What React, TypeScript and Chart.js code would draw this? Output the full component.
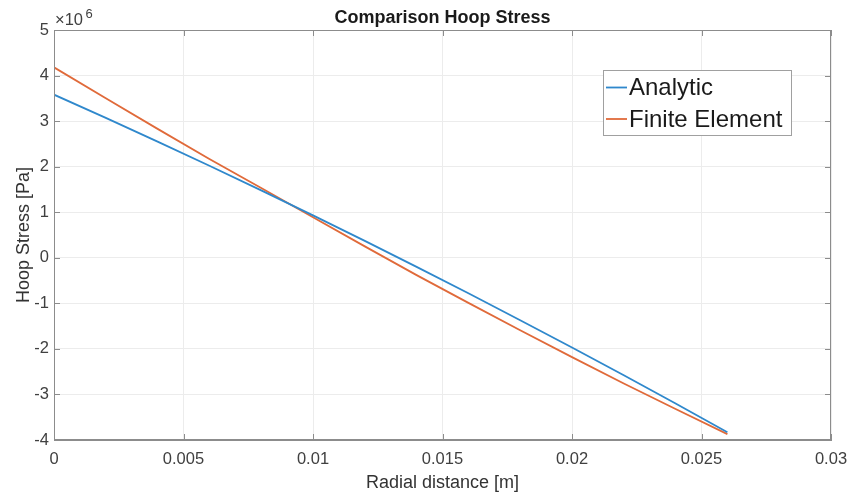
import React, { useEffect, useRef } from "react";
import { Chart, registerables } from "chart.js";

Chart.register(...registerables);

// Radial positions [m] and hoop stress [Pa] for both solutions
const radialDistance = [0, 0.002, 0.004, 0.006, 0.008, 0.01, 0.012, 0.014, 0.016, 0.018, 0.02, 0.022, 0.024, 0.026];
const analyticStress = [3.58e6, 3.07e6, 2.55e6, 2.02e6, 1.48e6, 0.93e6, 0.37e6, -0.2e6, -0.78e6, -1.37e6, -1.97e6, -2.58e6, -3.2e6, -3.83e6];
const finiteElementStress = [4.18e6, 3.5e6, 2.83e6, 2.17e6, 1.53e6, 0.89e6, 0.25e6, -0.38e6, -0.99e6, -1.59e6, -2.18e6, -2.76e6, -3.32e6, -3.87e6];

const seriesNames = ["Analytic", "Finite Element"];
const seriesColors = ["#2f88cc", "#e06a3a"];

const xTicks = [0, 0.005, 0.01, 0.015, 0.02, 0.025, 0.03];
const yTicks = [-4e6, -3e6, -2e6, -1e6, 0, 1e6, 2e6, 3e6, 4e6, 5e6];

const titleText = "Comparison Hoop Stress";
const xTitle = "Radial distance [m]";
const yTitle = "Hoop Stress [Pa]";

const FONT = "'Liberation Sans', Arial, Helvetica, sans-serif";
const BOX = "#8c8c8c";

// Frame, inward ticks, titles, exponent label and legend
const decorations = {
  id: "decorations",
  afterDraw(chart: any) {
    const { ctx, chartArea: a, scales } = chart;
    const xs = scales.x;
    const ys = scales.y;
    ctx.save();

    // box around the axes
    ctx.strokeStyle = BOX;
    ctx.lineWidth = 1;
    ctx.strokeRect(a.left + 0.5, a.top + 0.5, a.right - a.left - 1, a.bottom - a.top - 1);

    // inward tick marks on all four sides
    const tl = 6;
    ctx.beginPath();
    xTicks.forEach((v) => {
      const px = Math.round(xs.getPixelForValue(v)) + 0.5;
      ctx.moveTo(px, a.bottom);
      ctx.lineTo(px, a.bottom - tl);
      ctx.moveTo(px, a.top);
      ctx.lineTo(px, a.top + tl);
    });
    yTicks.forEach((v) => {
      const py = Math.round(ys.getPixelForValue(v)) + 0.5;
      ctx.moveTo(a.left, py);
      ctx.lineTo(a.left + tl, py);
      ctx.moveTo(a.right, py);
      ctx.lineTo(a.right - tl, py);
    });
    ctx.stroke();

    const cx = (a.left + a.right) / 2;
    const cy = (a.top + a.bottom) / 2;

    // chart title
    ctx.fillStyle = "#1a1a1a";
    ctx.textAlign = "center";
    ctx.textBaseline = "alphabetic";
    ctx.font = `bold 18px ${FONT}`;
    ctx.fillText(titleText, cx, 23);

    // axis titles
    ctx.fillStyle = "#333333";
    ctx.font = `18px ${FONT}`;
    ctx.fillText(xTitle, cx, 488);
    ctx.save();
    ctx.translate(28.5, cy);
    ctx.rotate(-Math.PI / 2);
    ctx.fillText(yTitle, 0, 0);
    ctx.restore();

    // exponent label
    ctx.fillStyle = "#404040";
    ctx.textAlign = "left";
    ctx.font = `16.5px ${FONT}`;
    ctx.fillText("\u00d710", 55, 25);
    ctx.font = `13px ${FONT}`;
    ctx.fillText("6", 85.5, 17.5);

    // legend
    const lx = 603.5;
    const ly = 70.5;
    const lw = 188;
    const lh = 65;
    ctx.fillStyle = "#ffffff";
    ctx.fillRect(lx, ly, lw, lh);
    ctx.strokeStyle = "#a0a0a0";
    ctx.strokeRect(lx, ly, lw, lh);
    ctx.font = `24px ${FONT}`;
    ctx.textBaseline = "middle";
    chart.data.datasets.forEach((ds: any, i: number) => {
      const rowY = 87.5 + i * 31.5;
      ctx.strokeStyle = ds.borderColor;
      ctx.lineWidth = 1.8;
      ctx.beginPath();
      ctx.moveTo(606, rowY);
      ctx.lineTo(627, rowY);
      ctx.stroke();
      ctx.fillStyle = "#1a1a1a";
      ctx.fillText(ds.label, 629, rowY + 1);
    });

    ctx.restore();
  },
};

function fmtX(v: number) {
  return String(Number(v.toFixed(4)));
}

export default function App() {
  const ref = useRef<HTMLCanvasElement | null>(null);

  useEffect(() => {
    if (!ref.current) return;
    const chart = new Chart(ref.current, {
      type: "scatter",
      data: {
        datasets: [analyticStress, finiteElementStress].map((vals, i) => ({
          label: seriesNames[i],
          data: radialDistance.map((r, k) => ({ x: r, y: vals[k] })),
          showLine: true,
          borderColor: seriesColors[i],
          backgroundColor: seriesColors[i],
          borderWidth: 1.8,
          pointRadius: 0,
          tension: 0,
        })),
      },
      options: {
        responsive: false,
        animation: false,
        layout: { padding: { left: 0, top: 30, right: 17, bottom: 0 } },
        plugins: {
          legend: { display: false },
          title: { display: false },
          tooltip: { enabled: false },
        },
        scales: {
          x: {
            type: "linear",
            min: 0,
            max: 0.03,
            afterFit: (s: any) => {
              s.height = 53;
              s.paddingLeft = 0;
              s.paddingRight = 0;
            },
            afterBuildTicks: (s: any) => {
              s.ticks = xTicks.map((v) => ({ value: v }));
            },
            ticks: {
              callback: (v: any) => fmtX(Number(v)),
              font: { family: FONT, size: 16.5 },
              color: "#404040",
              padding: 10,
              maxRotation: 0,
              autoSkip: false,
            },
            grid: { color: "#ececec", drawTicks: false, tickLength: 0 },
            border: { display: true, color: BOX },
          },
          y: {
            type: "linear",
            min: -4e6,
            max: 5e6,
            afterFit: (s: any) => {
              s.width = 54;
              s.paddingTop = 0;
              s.paddingBottom = 0;
            },
            afterBuildTicks: (s: any) => {
              s.ticks = yTicks.map((v) => ({ value: v }));
            },
            ticks: {
              callback: (v: any) => String(Math.round(Number(v) / 1e6)),
              font: { family: FONT, size: 16.5 },
              color: "#404040",
              padding: 5,
              autoSkip: false,
            },
            grid: { color: "#ececec", drawTicks: false, tickLength: 0 },
            border: { display: true, color: BOX },
          },
        },
      },
      plugins: [decorations],
    });
    return () => chart.destroy();
  }, []);

  return (
    <div style={{ position: "absolute", left: 0, top: 0, width: 848, height: 493, background: "#ffffff" }}>
      <canvas ref={ref} width={848} height={493} style={{ display: "block", width: 848, height: 493 }} />
    </div>
  );
}
